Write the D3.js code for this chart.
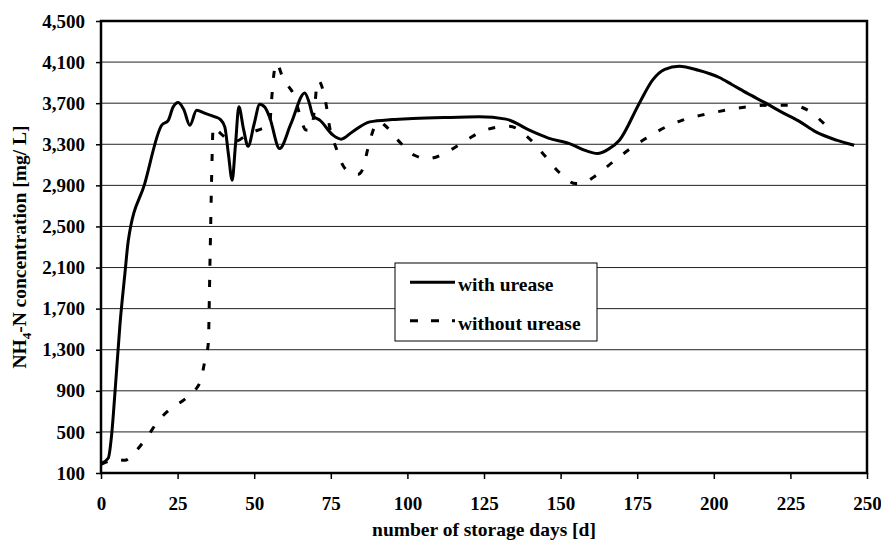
<!DOCTYPE html>
<html>
<head>
<meta charset="utf-8">
<script src="https://cdn.jsdelivr.net/npm/d3@7"></script>
<style>
  body { margin: 0; background: #fff; }
  svg text { font-family: "Liberation Serif", Tinos, "Times New Roman", "DejaVu Serif", serif !important; font-weight: bold; fill: #000; }
</style>
</head>
<body>
<div id="chart"></div>
<script>
// tick labels
var xTicks = [0, 25, 50, 75, 100, 125, 150, 175, 200, 225, 250];
var yTicks = [100, 500, 900, 1300, 1700, 2100, 2500, 2900, 3300, 3700, 4100, 4500];

// series: with urease
var withDays = [0, 2.4, 3.5, 4.6, 6.2, 7.8, 8.9, 14.3, 19.8, 21.9, 23.5, 25.2, 27, 29, 31.2, 34, 37.2,
  39, 40.4, 41.6, 42.8, 43.9, 45, 46.5, 48, 50, 51.8, 53.5, 55, 58.3, 62, 66.5, 68, 69.2, 71.4, 75.7, 78.4,
  82, 87.7, 95, 101.8, 112, 123.5, 132.2, 139.8, 146, 152.9, 158, 162, 165.5, 169.2, 175.7, 180, 184, 188.7,
  195, 201.8, 206, 211, 217, 222, 227.8, 233.3, 240, 245.8];
var withVals = [190, 246, 480, 900, 1550, 2040, 2360, 2920, 3485, 3530, 3660, 3707, 3640, 3485, 3630, 3600, 3567,
  3540, 3470, 3200, 2950, 3300, 3665, 3450, 3280, 3500, 3690, 3660, 3565, 3258, 3500, 3800, 3700, 3575, 3535, 3390, 3350,
  3420, 3518, 3540, 3550, 3560, 3567, 3545, 3437, 3360, 3307, 3240, 3210, 3250, 3340, 3700, 3925, 4030, 4060,
  4020, 3950, 3880, 3795, 3700, 3615, 3525, 3420, 3340, 3290];

// series: without urease
var withoutDays = [0, 2.5, 4.6, 7.8, 9.5, 11, 13, 14.9, 18.7, 21.9, 27.4, 30.6, 32.8, 33.9, 35, 35.6, 36.2, 36.6,
  38.5, 40.4, 44, 48, 52.4, 55, 55.6, 56.2, 57.3, 59.4, 63.2, 65.4, 66.8, 68.5, 69.8, 70.5, 71, 72, 73.6, 74.6,
  76.8, 78.4, 81, 83.9, 85.5, 87.1, 89.3, 90.9, 92.6, 96.9, 102.3, 106.7, 113.8, 119.7, 126.2, 133.3, 139.8,
  144.7, 149.4, 155, 157, 161.6, 167, 173.5, 179.5, 185.5, 189.8, 196.9, 204, 211, 218.1, 225.1, 231.6, 237.1, 239];
var withoutVals = [185, 215, 233, 224, 250, 298, 370, 444, 607, 705, 819, 900, 1030, 1193, 1356, 2200, 3100, 3470,
  3420, 3370, 3330, 3400, 3450, 3480, 3700, 3925, 4090, 3940, 3760, 3535, 3440, 3440, 3680, 3890, 3920, 3870, 3665, 3470,
  3258, 3127, 3030, 3007, 3063, 3258, 3470, 3518, 3485, 3340, 3193, 3160, 3240, 3350, 3446, 3475, 3355,
  3193, 3030, 2917, 2920, 2998, 3127, 3273, 3388, 3485, 3535, 3590, 3632, 3665, 3680, 3680, 3615, 3470, 3420];

var width = 881, height = 542;
var margin = {top: 21, left: 101, bottom: 70, right: 14};

var svg = d3.select('#chart').append('svg')
  .attr('width', width)
  .attr('height', height);

var xScale = d3.scaleLinear().domain([0, 250]).range([margin.left, width - margin.right]);
var yScale = d3.scaleLinear().domain([100, 4500]).range([height - margin.bottom + 1, margin.top]);

// gridlines
svg.append('g').selectAll('line')
  .data(yTicks.slice(1, -1))
  .enter().append('line')
  .attr('x1', xScale(0)).attr('x2', xScale(250))
  .attr('y1', function (d) { return yScale(d); })
  .attr('y2', function (d) { return yScale(d); })
  .attr('stroke', '#222')
  .attr('stroke-width', 1);

var xAxis = d3.axisBottom(xScale).tickValues(xTicks).tickSize(6).tickPadding(18);
var gx = svg.append('g')
  .attr('transform', 'translate(0,' + yScale(100) + ')')
  .call(xAxis);

var yAxis = d3.axisLeft(yScale).tickValues(yTicks).tickSize(5).tickPadding(11).tickFormat(d3.format(','));
var gy = svg.append('g')
  .attr('transform', 'translate(' + xScale(0) + ',0)')
  .call(yAxis);

[gx, gy].forEach(function (g) {
  g.attr('font-family', null).attr('font-size', null);
  g.select('.domain').remove();
  g.selectAll('.tick line').attr('stroke', '#000').attr('stroke-width', 1.5);
  g.selectAll('.tick text').style('font-size', '19px');
});

// frame
svg.append('rect')
  .attr('x', xScale(0)).attr('y', yScale(4500))
  .attr('width', xScale(250) - xScale(0))
  .attr('height', yScale(100) - yScale(4500))
  .attr('fill', 'none')
  .attr('stroke', '#000')
  .attr('stroke-width', 2.5);

var line = d3.line()
  .x(function (d) { return xScale(d[0]); })
  .y(function (d) { return yScale(d[1]); })
  .curve(d3.curveMonotoneX);

var withData = withDays.map(function (d, i) { return [d, withVals[i]]; });
var withoutData = withoutDays.map(function (d, i) { return [d, withoutVals[i]]; });

svg.append('path')
  .datum(withoutData)
  .attr('d', line)
  .attr('fill', 'none')
  .attr('stroke', '#000')
  .attr('stroke-width', 3)
  .attr('stroke-dasharray', '7,14');

svg.append('path')
  .datum(withData)
  .attr('d', line)
  .attr('fill', 'none')
  .attr('stroke', '#000')
  .attr('stroke-width', 3);

// legend
var lg = svg.append('g').attr('transform', 'translate(395,263)');
lg.append('rect')
  .attr('width', 202).attr('height', 78)
  .attr('fill', '#fff').attr('stroke', '#000').attr('stroke-width', 1);
lg.append('line').attr('x1', 15).attr('x2', 60).attr('y1', 19.3).attr('y2', 19.3)
  .attr('stroke', '#000').attr('stroke-width', 3);
lg.append('line').attr('x1', 15).attr('x2', 60).attr('y1', 57.7).attr('y2', 57.7)
  .attr('stroke', '#000').attr('stroke-width', 3).attr('stroke-dasharray', '8,13');
lg.append('text').attr('x', 63).attr('y', 27.5).style('font-size', '19.5px').text('with urease');
lg.append('text').attr('x', 63).attr('y', 67).style('font-size', '19.5px').text('without urease');

// axis titles
svg.append('text')
  .attr('x', (xScale(0) + xScale(250)) / 2)
  .attr('y', 536)
  .attr('text-anchor', 'middle')
  .style('font-size', '19.5px')
  .text('number of storage days [d]');

var yt = svg.append('text')
  .attr('text-anchor', 'middle')
  .attr('transform', 'translate(26,' + ((yScale(100) + yScale(4500)) / 2) + ') rotate(-90)')
  .style('font-size', '19.5px');
yt.append('tspan').text('NH');
yt.append('tspan').attr('dy', 5).style('font-size', '13px').text('4');
yt.append('tspan').attr('dy', -5).text('-N concentration [mg/ L]');
</script>
</body>
</html>
